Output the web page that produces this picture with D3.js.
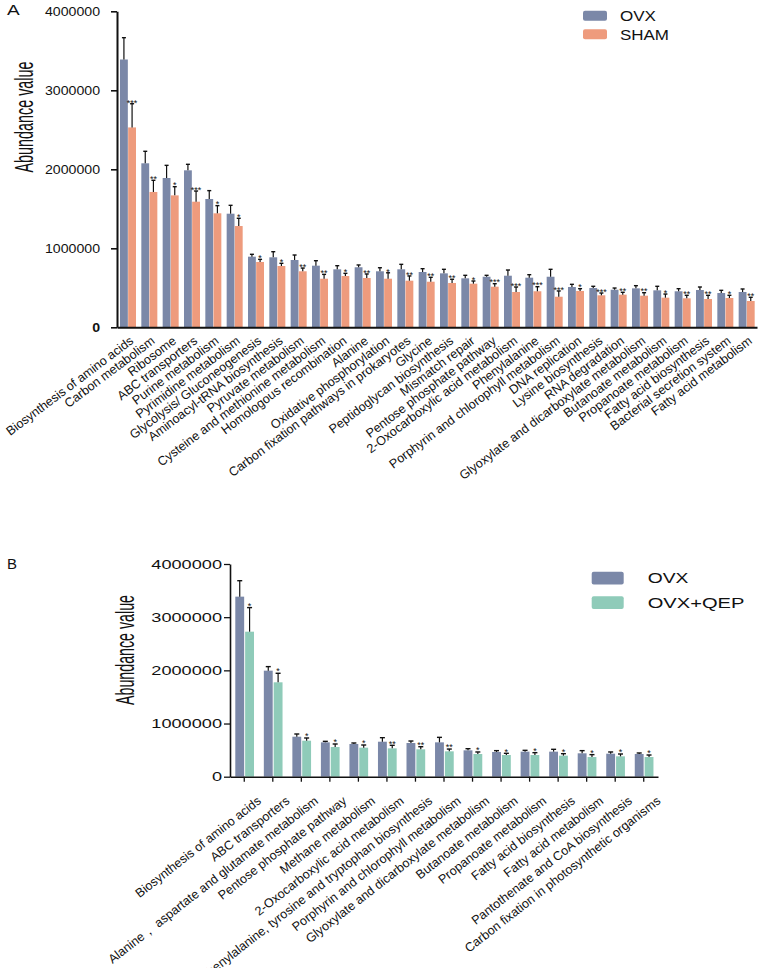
<!DOCTYPE html>
<html><head><meta charset="utf-8">
<script src="https://cdn.jsdelivr.net/npm/d3@7"></script>
<style>body{margin:0;background:#fff} text{font-family:"Liberation Sans",Arial,sans-serif;fill:#111}</style>
</head><body><svg id="c" width="760" height="968"></svg>
<script>
// ---------- Panel A data ----------
const catsA = ["Biosynthesis of amino acids","Carbon metabolism","Ribosome","ABC transporters","Purine metabolism","Pyrimidine metabolism","Glycolysis/ Gluconeogenesis","Aminoacyl-tRNA biosynthesis","Pyruvate metabolism","Cysteine and methionine metabolism","Homologous recombination","Alanine","Oxidative phosphorylation","Carbon fixation pathways in prokaryotes","Glycine","Peptidoglycan biosynthesis","Mismatch repair","Pentose phosphate pathway","2-Oxocarboxylic acid metabolism","Phenylalanine","Porphyrin and chlorophyll metabolism","DNA replication","Lysine biosynthesis","RNA degradation","Glyoxylate and dicarboxylate metabolism","Butanoate metabolism","Propanoate metabolism","Fatty acid biosynthesis","Bacterial secretion system","Fatty acid metabolism"];
const seriesA = ["OVX","SHAM"];
const ovxA = [3390000,2076000,1890000,1987000,1624000,1438000,894000,886000,852000,780000,734000,760000,709000,734000,700000,683000,620000,640000,653000,628000,640000,510000,497000,476000,493000,468000,456000,472000,434000,447000];
const ovxAsd = [276000,152000,160000,76000,106000,106000,30000,71000,63000,63000,46000,29000,45000,63000,42000,51000,38000,18000,72000,38000,94000,34000,22000,21000,34000,51000,33000,38000,34000,38000];
const shamA = [2530000,1713000,1670000,1590000,1443000,1282000,827000,776000,709000,615000,649000,624000,615000,590000,577000,561000,552000,514000,447000,456000,387000,460000,405000,413000,400000,375000,367000,358000,371000,333000];
const shamAsd = [300000,148000,110000,135000,97000,98000,33000,34000,41000,55000,34000,51000,75000,60000,56000,47000,34000,38000,63000,58000,73000,29000,29000,30000,38000,46000,38000,47000,34000,47000];
const sigA = ["***","**","*","***","*","*","*","*","**","**","*","**","*","**","**","**","*","***","***","***","***","*","***","**","**","*","**","**","*","**"];

// ---------- Panel B data ----------
const catsB = ["Biosynthesis of amino acids","ABC transporters","Alanine，  aspartate and glutamate metabolism","Pentose phosphate pathway","Methane metabolism","2-Oxocarboxylic acid metabolism","Phenylalanine, tyrosine and tryptophan biosynthesis","Porphyrin and chlorophyll metabolism","Glyoxylate and dicarboxylate metabolism","Butanoate metabolism","Propanoate metabolism","Fatty acid biosynthesis","Fatty acid metabolism","Pantothenate and CoA biosynthesis","Carbon fixation in photosynthetic organisms"];
const seriesB = ["OVX","OVX+QEP"];
const ovxB = [3386000,1994000,752000,646000,615000,658000,634000,646000,496000,465000,471000,471000,440000,433000,427000];
const ovxBsd = [300000,76000,51000,19000,19000,76000,37000,94000,31000,25000,25000,44000,50000,32000,19000];
const qepB = [2727000,1775000,677000,558000,546000,533000,515000,477000,427000,408000,408000,396000,370000,383000,370000];
const qepBsd = [453000,170000,51000,57000,50000,57000,49000,43000,38000,32000,44000,37000,45000,44000,38000];
const sigB = ["*","*","*","*","*","**","**","**","*","*","*","*","*","*","*"];

const yTicks = [0,1000000,2000000,3000000,4000000];
const colors = {"OVX":"#7b88a8","SHAM":"#ee9b7d","OVX+QEP":"#8fcbb9"};

const svg = d3.select("#c");

function panel(o){
  const g = svg.append("g");
  const y = d3.scaleLinear().domain([0,4000000]).range([o.yBottom,o.yTop]);
  const x = d3.scaleBand().domain(o.cats).range([o.xLeft,o.xRight]).padding(0);
  const x1 = d3.scaleBand().domain(o.series).range(o.inner).paddingInner(o.innerPad);
  const bw = x1.bandwidth();
  const data = o.cats.map((c,i)=>({c,i,vals:[{s:o.series[0],v:o.v1[i],sd:o.sd1[i]},{s:o.series[1],v:o.v2[i],sd:o.sd2[i]}]}));

  const grp = g.selectAll("g.grp").data(data).join("g").attr("class","grp")
    .attr("transform",d=>`translate(${x(d.c)},0)`);
  const bar = grp.selectAll("g.b").data(d=>d.vals).join("g").attr("class","b");
  bar.append("rect").attr("x",d=>x1(d.s)).attr("width",bw)
    .attr("y",d=>y(d.v)).attr("height",d=>y(0)-y(d.v)).attr("fill",d=>colors[d.s]);
  bar.append("line").attr("x1",d=>x1(d.s)+bw/2).attr("x2",d=>x1(d.s)+bw/2)
    .attr("y1",d=>y(d.v)).attr("y2",d=>y(d.v+d.sd)).attr("stroke","#111").attr("stroke-width",1.2);
  bar.append("line").attr("x1",d=>x1(d.s)+bw/2-o.cap).attr("x2",d=>x1(d.s)+bw/2+o.cap)
    .attr("y1",d=>y(d.v+d.sd)).attr("y2",d=>y(d.v+d.sd)).attr("stroke","#111").attr("stroke-width",1.4);
  grp.append("text").attr("x",d=>x1(o.series[1])+bw/2).attr("y",d=>y(d.vals[1].v+d.vals[1].sd)+o.starDy)
    .attr("text-anchor","middle").attr("font-size",9).text(d=>o.sig[d.i]);

  // y axis
  const ya = g.append("g").attr("transform",`translate(${o.xLeft},0)`)
    .call(d3.axisLeft(y).tickValues(yTicks).tickSizeInner(6).tickSizeOuter(0).tickPadding(o.tickPad).tickFormat(d3.format("d")));
  ya.select(".domain").attr("stroke","#111").attr("stroke-width",o.axisW);
  ya.selectAll(".tick line").attr("stroke","#111").attr("stroke-width",o.axisW*0.8);
  ya.selectAll(".tick text").attr("font-size",13).attr("fill","#111")
    .attr("font-family",'"Liberation Sans",Arial,sans-serif')
    .attr("font-weight",d=>(d===0&&o.boldZero)?"bold":"normal")
    .attr("textLength",d=>String(d).length*o.digitW).attr("lengthAdjust","spacingAndGlyphs");

  // x axis
  const xa = g.append("g").attr("transform",`translate(0,${o.yBottom})`)
    .call(d3.axisBottom(x).tickSizeInner(o.xTick).tickSizeOuter(0).tickPadding(0));
  xa.select(".domain").attr("stroke","#111").attr("stroke-width",o.axisW);
  xa.selectAll(".tick line").attr("stroke","#111").attr("stroke-width",o.axisW*0.8);
  xa.selectAll(".tick text").attr("font-size",12.6).attr("fill","#111")
    .attr("font-family",'"Liberation Sans",Arial,sans-serif')
    .attr("text-anchor","end").attr("x",0).attr("y",0).attr("dy","0.35em")
    .attr("transform",`translate(${o.lblDx},${o.lblDy}) rotate(${o.angle})`);

  // y title
  g.append("text").attr("transform",`translate(${o.titleX},${o.titleY}) rotate(-90)`)
    .attr("text-anchor","middle").attr("dy","0.35em").attr("font-size",25)
    .attr("textLength",o.titleLen).attr("lengthAdjust","spacingAndGlyphs").text("Abundance value");

  // legend
  o.series.forEach((s,k)=>{
    g.append("rect").attr("x",o.legX).attr("y",o.legY[k]).attr("width",o.legW).attr("height",o.legH)
      .attr("rx",2).attr("fill",colors[s]);
    g.append("text").attr("x",o.legTX).attr("y",o.legY[k]+o.legH/2).attr("dy","0.36em")
      .attr("font-size",15).attr("textLength",o.legTL[k]).attr("lengthAdjust","spacingAndGlyphs").text(s);
  });

  // panel letter
  g.append("text").attr("x",o.letterX).attr("y",o.letterY).attr("font-size",15)
    .attr("textLength",o.letterW).attr("lengthAdjust","spacingAndGlyphs").text(o.letter);
}

panel({cats:catsA,series:seriesA,v1:ovxA,sd1:ovxAsd,v2:shamA,sd2:shamAsd,sig:sigA,
  yTop:11.3,yBottom:327.3,xLeft:117,xRight:757,inner:[3,19],innerPad:0.04,cap:2,starDy:1.8,
  axisW:2,tickPad:11,digitW:7.86,boldZero:true,xTick:0,lblDx:4,lblDy:11.7,angle:-37,
  titleX:24,titleY:117,titleLen:111,
  legX:583,legY:[10.7,29.3],legW:24,legH:10,legTX:620,legTL:[36,49],
  letter:"A",letterX:7,letterY:15,letterW:12.7});

panel({cats:catsB,series:seriesB,v1:ovxB,sd1:ovxBsd,v2:qepB,sd2:qepBsd,sig:sigB,
  yTop:564,yBottom:776.7,xLeft:230,xRight:658,inner:[5.3,24],innerPad:0.1,cap:2.5,starDy:1.2,
  axisW:1.6,tickPad:2,digitW:10.1,boldZero:false,xTick:5,lblDx:15,lblDy:22.3,angle:-38,
  titleX:125,titleY:650,titleLen:110,
  legX:591.7,legY:[571.7,596.3],legW:32,legH:12.7,legTX:647.7,legTL:[40.7,96.7],
  letter:"B",letterX:7,letterY:569.3,letterW:10});
</script>
</body></html>
